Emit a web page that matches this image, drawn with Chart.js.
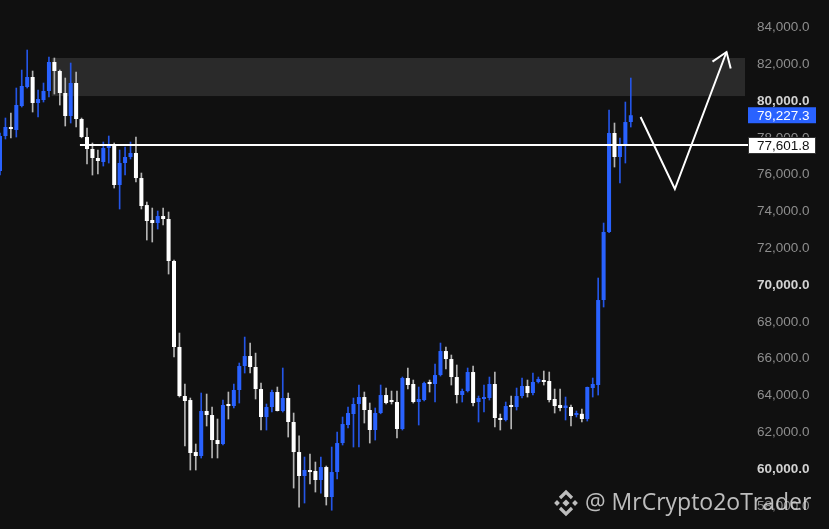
<!DOCTYPE html>
<html>
<head>
<meta charset="utf-8">
<script src="https://cdn.jsdelivr.net/npm/chart.js@4.4.1/dist/chart.umd.min.js"></script>
<style>
  html, body { margin: 0; padding: 0; background: #101010; }
  canvas { display: block; }
</style>
</head>
<body>
<canvas id="graphCanvas" width="829" height="529"></canvas>
<script>
// candles, oldest first
var opens  = [76195,78098,78587,78424,79728,80760,81304,79891,80054,80543,82119,81630,80435,79185,80978,79021,78044,77391,76902,76684,
              77445,77609,75434,76630,76956,77174,75814,74346,73532,73369,73749,73587,71304,66630,63967,63749,60923,60706,63152,62934,
              61575,61358,63532,63423,64293,65597,66140,65543,64347,62826,63369,64184,63152,63858,62554,60923,59619,59945,59891,59402,
              60108,58477,59836,61412,62391,62989,63532,63912,63206,62119,63043,64021,63695,63641,62174,64945,64619,63641,63749,64673,
              64619,65108,66412,65977,64999,64021,64238,65271,63641,63804,63858,64619,62771,62663,63478,63369,63967,64510,64130,64728,
              64836,64782,63804,63478,63315,63369,62934,63000,62717,64401,64565,69184,72880,78261,76956,77609,78858];
var highs  = [78261,79076,79347,80706,81684,82772,81630,80598,80978,82391,82337,81684,81250,82065,81576,79076,78532,77718,77337,77772,
              78098,77718,77337,77500,77772,78044,76086,74510,74184,74021,74184,73967,71350,67390,64619,63858,61358,64130,64075,63369,
              62717,63749,64184,64619,65760,67172,66847,66300,64673,63532,64293,64456,65489,64130,63043,61800,60652,60815,60380,60652,
              60162,61195,62010,62826,63369,63858,64565,64184,63586,63315,64565,64401,64238,64238,64999,65489,64836,64456,64728,64836,
              65705,66847,66630,66195,65652,64347,65489,65597,63967,64565,64999,65271,62989,63641,63967,64401,64945,64836,65217,64999,
              65325,65271,64347,64347,63912,63478,63152,63260,64456,64945,70380,73369,79511,78804,77989,79945,81250];
var lows   = [75977,77935,77989,78044,79674,80706,79402,79130,79945,80217,80380,79782,78641,78804,78587,78000,76576,75977,76032,76467,
              76630,75271,74130,75977,76848,75597,74130,72445,72337,73043,73260,70597,66086,63912,61249,59945,59945,60598,62337,60598,
              60598,61304,62717,63315,63586,65217,65217,63804,62119,62119,63097,63152,63097,61738,58966,57933,58151,59184,58749,58694,
              58042,57760,59456,61304,62228,61195,61195,62500,61412,61575,63000,63532,63532,61684,62119,64347,63586,62391,63695,64184,
              63641,65054,65434,64565,63586,63641,64184,63423,62554,63097,63749,62282,62119,62608,62174,63206,63858,63912,64021,64673,
              64565,63641,63043,63152,62663,62337,62826,62554,62608,63912,64021,68804,72850,76413,75543,76630,78587];
var closes = [78098,78587,78478,79782,80815,81304,79891,80109,80543,82119,81630,80435,79185,80978,79021,78044,77391,76902,76739,77445,
              77609,75434,76630,76956,77174,75814,74293,73478,73369,73749,73587,71304,66630,63967,63695,60869,60706,63152,62934,61575,
              61358,63478,63423,64293,65597,66140,65543,64347,62826,63369,64184,63152,63858,62554,60923,59619,59945,59836,59402,60108,
              58477,59836,61412,62445,63043,63532,63912,63206,62119,63043,64021,63586,63641,62174,64945,64565,63641,63804,64673,64619,
              65108,66412,65977,64999,64021,64238,65271,63586,63858,63858,64619,62771,62663,63423,63369,63967,64510,64130,64728,64890,
              64728,63749,63423,63315,63450,62880,63043,62717,64456,64619,69184,72880,78261,76956,77663,78858,79227.3];

var priceTicks = [58000,60000,62000,64000,66000,68000,70000,72000,74000,76000,78000,80000,82000,84000];
var slotCount = 138;               // candles plus empty space on the right
var lastPrice = 79227.3;
var levelPrice = 77601.8;
var zoneLow = 80270, zoneHigh = 82340;
// hand-drawn path: [candle index, price]
var arrowPath = [[117.8, 79130], [124.1, 75217], [133.6, 82663]];

var upColor = '#2962ff', downColor = '#ffffff';
var upWick = '#2455e6', downWick = '#b4b4b4';

function fmt(v) {
    return v.toLocaleString('en-US', { minimumFractionDigits: 1, maximumFractionDigits: 1 });
}

var labels = [];
for (var i = 0; i < slotCount; i++) labels.push(i);

var bodies = [], wicks = [], bodyColors = [], wickColors = [];
for (var i = 0; i < opens.length; i++) {
    bodies.push([opens[i], closes[i]]);
    wicks.push([lows[i], highs[i]]);
    var up = closes[i] >= opens[i];
    bodyColors.push(up ? upColor : downColor);
    wickColors.push(up ? upWick : downWick);
}

var overlay = {
    id: 'overlay',
    beforeDraw: function (chart) {
        var ctx = chart.ctx;
        ctx.save();
        ctx.fillStyle = '#101010';
        ctx.fillRect(0, 0, chart.width, chart.height);
        ctx.restore();
    },
    beforeDatasetsDraw: function (chart) {
        var ctx = chart.ctx, y = chart.scales.y, x = chart.scales.x;
        var top = y.getPixelForValue(zoneHigh), bottom = y.getPixelForValue(zoneLow);
        var left = x.getPixelForValue(9.5);
        ctx.save();
        ctx.fillStyle = '#2a2a2a';
        ctx.fillRect(left, top, chart.chartArea.right - left, bottom - top);
        ctx.restore();
    },
    afterDraw: function (chart) {
        var ctx = chart.ctx, y = chart.scales.y, x = chart.scales.x;
        var right = chart.chartArea.right;
        ctx.save();

        // level line
        var ly = Math.round(y.getPixelForValue(levelPrice));
        ctx.strokeStyle = '#ffffff';
        ctx.lineWidth = 2;
        ctx.beginPath();
        ctx.moveTo(x.getPixelForValue(14.7), ly);
        ctx.lineTo(right + 4, ly);
        ctx.stroke();

        // arrow
        var pts = arrowPath.map(function (p) { return [x.getPixelForValue(p[0]), y.getPixelForValue(p[1])]; });
        ctx.beginPath();
        ctx.moveTo(pts[0][0], pts[0][1]);
        for (var k = 1; k < pts.length; k++) ctx.lineTo(pts[k][0], pts[k][1]);
        ctx.stroke();
        var a = pts[pts.length - 2], b = pts[pts.length - 1];
        var ang = Math.atan2(a[1] - b[1], a[0] - b[0]);
        ctx.beginPath();
        ctx.moveTo(b[0] + 17 * Math.cos(ang + 0.61), b[1] + 17 * Math.sin(ang + 0.61));
        ctx.lineTo(b[0], b[1]);
        ctx.lineTo(b[0] + 17 * Math.cos(ang - 0.61), b[1] + 17 * Math.sin(ang - 0.61));
        ctx.stroke();

        // price boxes
        ctx.font = '13.5px "Liberation Sans", Arial, sans-serif';
        ctx.textBaseline = 'middle';
        ctx.textAlign = 'left';
        var py = y.getPixelForValue(lastPrice);
        ctx.fillStyle = upColor;
        ctx.fillRect(748, py - 8, 68, 16);
        ctx.fillStyle = '#ffffff';
        ctx.fillText(fmt(lastPrice), 757, py + 1);

        ctx.fillStyle = '#ffffff';
        ctx.fillRect(748, ly - 8, 68, 17);
        ctx.strokeStyle = '#333333';
        ctx.lineWidth = 1;
        ctx.strokeRect(748.5, ly - 7.5, 67, 16);
        ctx.fillStyle = '#111111';
        ctx.fillText(fmt(levelPrice), 757, ly + 1);

        // watermark
        ctx.globalAlpha = 0.85;
        ctx.fillStyle = '#dcdcdc';
        var cx = 566, cy = 503, s = 3.6;
        function diamond(dx, dy, r) {
            ctx.beginPath();
            ctx.moveTo(cx + dx, cy + dy - r);
            ctx.lineTo(cx + dx + r, cy + dy);
            ctx.lineTo(cx + dx, cy + dy + r);
            ctx.lineTo(cx + dx - r, cy + dy);
            ctx.closePath();
            ctx.fill();
        }
        diamond(0, 0, s);
        diamond(-9, 0, s * 0.8);
        diamond(9, 0, s * 0.8);
        ctx.lineWidth = 3.2;
        ctx.strokeStyle = '#dcdcdc';
        ctx.beginPath();
        ctx.moveTo(cx - 6, cy - 5); ctx.lineTo(cx, cy - 11); ctx.lineTo(cx + 6, cy - 5);
        ctx.moveTo(cx - 6, cy + 5); ctx.lineTo(cx, cy + 11); ctx.lineTo(cx + 6, cy + 5);
        ctx.stroke();
        ctx.font = '23px "Open Sans", "Noto Sans", sans-serif';
        ctx.fillText('@ MrCrypto2oTrader', 585, cy);
        ctx.restore();
    }
};

var chart = new Chart(document.getElementById('graphCanvas'), {
    type: 'bar',
    data: {
        labels: labels,
        datasets: [
            {
                label: 'body',
                data: bodies,
                backgroundColor: bodyColors,
                grouped: false,
                categoryPercentage: 1,
                barPercentage: 0.74,
                minBarLength: 2,
                order: 0
            },
            {
                label: 'wick',
                data: wicks,
                backgroundColor: wickColors,
                grouped: false,
                barThickness: 1,
                order: 1
            }
        ]
    },
    options: {
        responsive: false,
        animation: false,
        layout: { padding: 0 },
        plugins: { legend: { display: false }, tooltip: { enabled: false } },
        scales: {
            x: {
                display: false,
                offset: false,
                grid: { display: false }
            },
            y: {
                position: 'right',
                min: 56740,
                max: 85490,
                grid: { display: false, drawTicks: false },
                border: { display: false },
                afterBuildTicks: function (scale) {
                    scale.ticks = priceTicks.map(function (v) { return { value: v }; });
                },
                afterFit: function (scale) {
                    scale.width = 84;
                    scale.paddingTop = 0;
                    scale.paddingBottom = 0;
                },
                ticks: {
                    padding: 12,
                    callback: function (v) { return fmt(v); },
                    color: function (c) { return c.tick && c.tick.value % 10000 === 0 ? '#d2d2d2' : '#8e8e8e'; },
                    font: function (c) {
                        return {
                            family: '"Liberation Sans", Arial, sans-serif',
                            size: 13.5,
                            weight: c.tick && c.tick.value % 10000 === 0 ? 'bold' : 'normal'
                        };
                    }
                }
            }
        }
    },
    plugins: [overlay]
});
</script>
</body>
</html>
